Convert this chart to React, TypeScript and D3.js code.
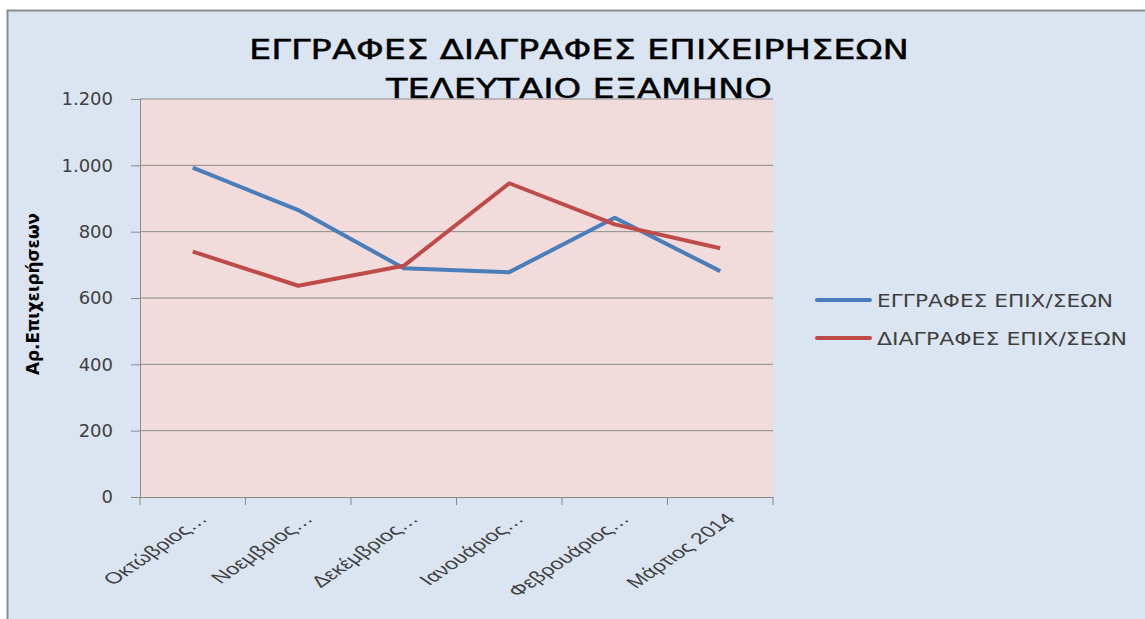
import React, { useEffect, useRef } from 'react';
import * as d3 from 'd3';

const months = ['Οκτώβριος…', 'Νοεμβριος…', 'Δεκέμβριος…', 'Ιανουάριος…', 'Φεβρουάριος…', 'Μάρτιος 2014'];
const registrations = [993, 865, 690, 678, 842, 681];
const deletions = [740, 637, 697, 946, 822, 750];
const yTicks = [0, 200, 400, 600, 800, 1000, 1200];
const seriesNames = ['ΕΓΓΡΑΦΕΣ ΕΠΙΧ/ΣΕΩΝ', 'ΔΙΑΓΡΑΦΕΣ ΕΠΙΧ/ΣΕΩΝ'];
const seriesColors = ['#4a7ebb', '#be4b48'];

const App = () => {
    const svgRef = useRef<SVGSVGElement>(null);

    useEffect(() => {
        document.body.style.margin = '0';
        const svg = d3.select(svgRef.current);
        svg.selectAll('*').remove();

        const W = 1145, H = 619;
        const plot = { left: 140, right: 773, top: 99, bottom: 497 };

        // white page + chart frame
        svg.append('rect').attr('width', W).attr('height', H).attr('fill', '#ffffff');
        svg.append('rect')
            .attr('x', 7.5).attr('y', 10.5)
            .attr('width', W + 10).attr('height', H + 10)
            .attr('fill', '#dbe5f1')
            .attr('stroke', '#8c8c8c').attr('stroke-width', 2);

        const labelFont = '"DejaVu Sans", sans-serif';
        const narrowFont = '"DejaVu Sans Condensed", "DejaVu Sans", sans-serif';

        // title
        const title = svg.append('g').attr('fill', '#000').attr('stroke', '#000').attr('stroke-width', 0.4);
        title.append('text')
            .attr('x', 579).attr('y', 59)
            .attr('text-anchor', 'middle')
            .attr('font-family', narrowFont).attr('font-size', 27)
            .attr('textLength', 660).attr('lengthAdjust', 'spacingAndGlyphs')
            .text('ΕΓΓΡΑΦΕΣ ΔΙΑΓΡΑΦΕΣ ΕΠΙΧΕΙΡΗΣΕΩΝ');
        title.append('text')
            .attr('x', 579).attr('y', 98)
            .attr('text-anchor', 'middle')
            .attr('font-family', narrowFont).attr('font-size', 27)
            .attr('textLength', 386).attr('lengthAdjust', 'spacingAndGlyphs')
            .text('ΤΕΛΕΥΤΑΙΟ ΕΞΑΜΗΝΟ');

        const x = d3.scaleBand().domain(months).range([plot.left, plot.right]);
        const y = d3.scaleLinear().domain([0, 1200]).range([plot.bottom, plot.top]);

        // plot area (drawn over the title's bottom edge, as in the original)
        svg.append('rect')
            .attr('x', plot.left).attr('y', plot.top)
            .attr('width', plot.right - plot.left).attr('height', plot.bottom - plot.top)
            .attr('fill', '#f2dcdb');

        // gridlines
        svg.append('g').selectAll('line')
            .data(yTicks.filter((t) => t > 0))
            .enter().append('line')
            .attr('x1', plot.left).attr('x2', plot.right)
            .attr('y1', (d) => y(d)).attr('y2', (d) => y(d))
            .attr('stroke', '#8a8a8a').attr('stroke-width', 1);

        // y axis
        const yAxis = svg.append('g')
            .attr('transform', `translate(${plot.left},0)`)
            .call(d3.axisLeft(y).tickValues(yTicks).tickSize(9).tickPadding(18)
                .tickFormat((d) => d3.format(',')(d as number).replace(',', '.')));
        yAxis.select('.domain').attr('stroke', '#8a8a8a');
        yAxis.selectAll('.tick line').attr('stroke', '#8a8a8a');
        yAxis.selectAll('.tick text')
            .attr('fill', '#404040').attr('font-size', 18).attr('font-family', labelFont);

        // x axis
        const xAxis = svg.append('g')
            .attr('transform', `translate(0,${plot.bottom})`)
            .call(d3.axisBottom(x).tickSize(0).tickFormat(() => ''));
        xAxis.select('.domain').attr('stroke', '#8a8a8a');
        const bounds = months.map((m) => x(m) as number).concat([plot.right]);
        xAxis.selectAll('.bound')
            .data(bounds).enter().append('line')
            .attr('x1', (d) => d).attr('x2', (d) => d)
            .attr('y1', 0).attr('y2', 8)
            .attr('stroke', '#8a8a8a');
        // labels: 45° rotation, horizontally stretched like the source picture
        svg.append('g').selectAll('text')
            .data(months).enter().append('text')
            .attr('transform', (d) => `translate(${(x(d) as number) + x.bandwidth() / 2 + 16},${plot.bottom + 23}) scale(1.45,1) rotate(-45)`)
            .attr('text-anchor', 'end')
            .attr('font-family', '"Liberation Sans", sans-serif').attr('font-size', 16)
            .attr('fill', '#404040')
            .text((d) => d);

        // y axis title
        svg.append('text')
            .attr('transform', 'translate(39,294) rotate(-90)')
            .attr('text-anchor', 'middle')
            .attr('font-family', narrowFont).attr('font-size', 17)
            .attr('font-weight', 'bold')
            .attr('textLength', 162).attr('lengthAdjust', 'spacingAndGlyphs')
            .attr('fill', '#000')
            .text('Αρ.Επιχειρήσεων');

        // lines
        const line = d3.line<number>()
            .x((_, i) => (x(months[i]) as number) + x.bandwidth() / 2)
            .y((d) => y(d));
        [registrations, deletions].forEach((s, i) => {
            svg.append('path')
                .attr('d', line(s))
                .attr('fill', 'none')
                .attr('stroke', seriesColors[i])
                .attr('stroke-width', 4)
                .attr('stroke-linejoin', 'round');
        });

        // legend
        const legend = svg.append('g').attr('transform', 'translate(817,300)');
        seriesNames.forEach((name, i) => {
            const row = legend.append('g').attr('transform', `translate(0,${i * 38})`);
            row.append('line')
                .attr('x1', 0).attr('x2', 53)
                .attr('stroke', seriesColors[i]).attr('stroke-width', 4)
                .attr('stroke-linecap', 'round');
            row.append('text')
                .attr('x', 60).attr('y', 7)
                .attr('font-family', labelFont).attr('font-size', 18)
                .attr('textLength', i === 0 ? 236 : 250).attr('lengthAdjust', 'spacingAndGlyphs')
                .attr('fill', '#404040')
                .text(name);
        });
    }, []);

    return <svg ref={svgRef} width={1145} height={619} style={{ display: 'block' }}></svg>;
};

export default App;
